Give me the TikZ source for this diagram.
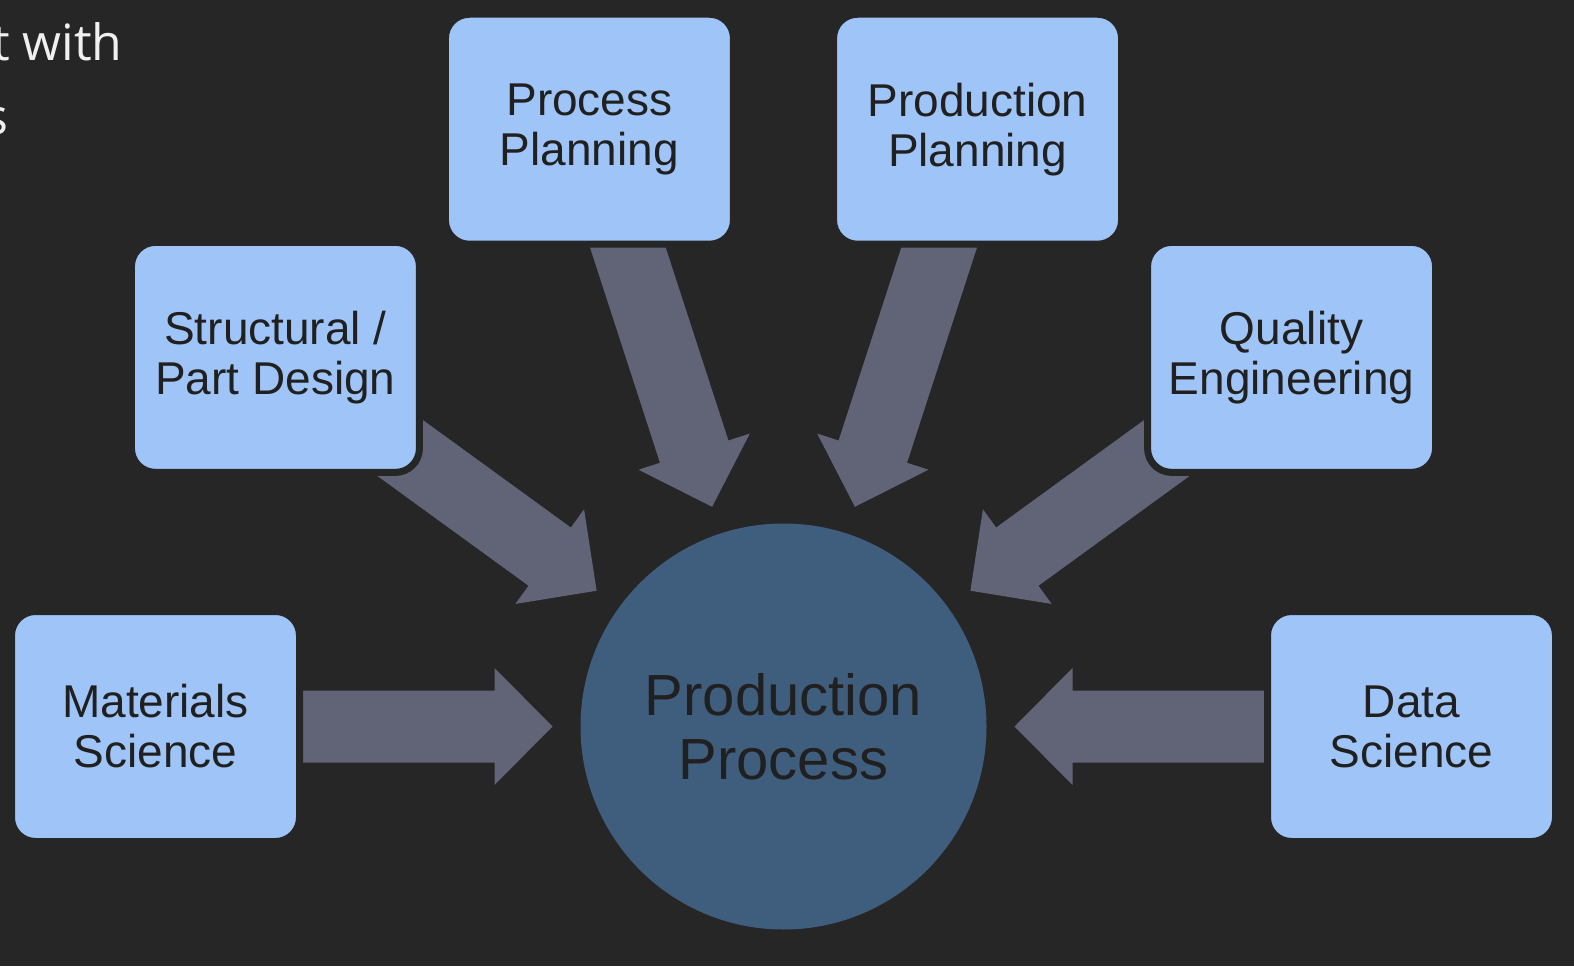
\documentclass[tikz,border=0pt]{standalone}
\usepackage{fontspec}
\setmainfont{Liberation Sans}
\newfontfamily\titlefont{Open Sans}
\usetikzlibrary{calc,backgrounds}

\definecolor{bgcol}{HTML}{262626}
\definecolor{boxcol}{HTML}{9FC5F8}
\definecolor{circcol}{HTML}{3F5E7E}
\definecolor{arrcol}{HTML}{606476}
\definecolor{txtcol}{HTML}{202020}

\tikzset{
  topicbox/.style={rectangle, rounded corners=12pt, fill=boxcol, draw=bgcol,
    line width=3.5pt, minimum width=144pt, minimum height=115pt, inner sep=0pt,
    align=center, text=txtcol, font=\fontsize{23pt}{25pt}\selectfont},
  bigarrow/.style={fill=arrcol, to path={
    let \p1=(\tikztostart), \p2=(\tikztotarget),
        \n1={atan2(\y1-\y2,\x1-\x2)} in
    ($(\p1)+({\n1+90}:18pt)$) --
    ($(\p2)+(\n1:144.5pt)+({\n1+90}:18pt)$) --
    ($(\p2)+(\n1:144.5pt)+({\n1+90}:29.25pt)$) --
    ($(\p2)+(\n1:115.5pt)$) --
    ($(\p2)+(\n1:144.5pt)+({\n1-90}:29.25pt)$) --
    ($(\p2)+(\n1:144.5pt)+({\n1-90}:18pt)$) --
    ($(\p1)+({\n1-90}:18pt)$) -- cycle}}
}

\begin{document}
\begin{tikzpicture}[x=0.5pt,y=0.5pt]
% The frame
\useasboundingbox (0,0) rectangle (1574,966);
\begin{scope}[on background layer]
  \fill[bgcol] (0,0) rectangle (1574,966);
\end{scope}
\clip (0,0) rectangle (1574,966);

% The title, cut off at the left
\node[anchor=base east, inner sep=0pt, text=white!94!black,
  font=\titlefont\fontsize{25pt}{30pt}\selectfont] (ttla) at (123,905) {t with};
\node[anchor=base east, inner sep=0pt, text=white!94!black,
  font=\titlefont\fontsize{25pt}{30pt}\selectfont] (ttlb) at (9,831) {s};

% The circle
\node[circle, fill=circcol, minimum size=203pt, inner sep=0pt, align=center,
  text=txtcol, font=\fontsize{29pt}{32pt}\selectfont] (pc) at (783.5,239.5)
  {Production\\Process};

% The boxes, every 36 degrees round the circle
\foreach \a/\n/\t in {180/ms/{Materials\\Science},
                      144/sp/{Structural /\\Part Design},
                      108/pp/{Process\\Planning},
                      72/prp/{Production\\Planning},
                      36/qe/{Quality\\Engineering},
                      0/ds/{Data\\Science}}
  \node[topicbox] (\n) at ($(pc)+(\a:628)$) {\t};

% The arrows, behind the boxes
\begin{scope}[on background layer]
\foreach \n in {ms,sp,pp,prp,qe,ds}
  \path[bigarrow] (\n) to (pc);
\end{scope}

\end{tikzpicture}
\end{document}
